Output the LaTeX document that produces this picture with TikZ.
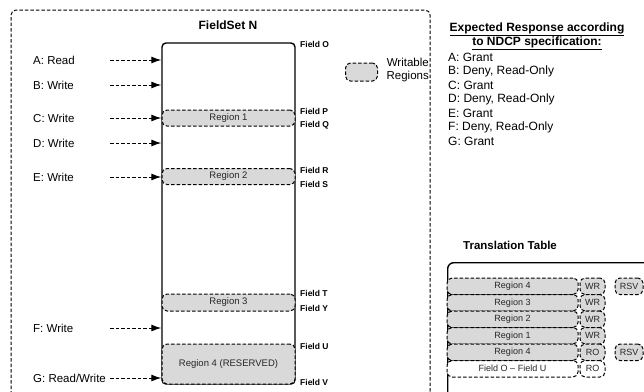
\documentclass[tikz,border=0pt]{standalone}
\usepackage{fontspec}
\setmainfont{Liberation Sans}
\usetikzlibrary{arrows.meta}
\definecolor{regfill}{RGB}{217,217,217}
\newcommand{\fsz}[2]{\fontsize{#1}{#2}\selectfont}

\begin{document}
\begin{tikzpicture}[x=1pt,y=-1pt,
  dsh/.style={dash pattern=on 3.5pt off 2pt},
  region/.style={draw,dsh,line width=1pt,rounded corners=5pt,fill=regfill,
    inner sep=0pt,font=\fsz{9.5}{11},text=black!85},
  cell/.style={region,font=\fsz{9}{10},minimum height=16.5pt},
  req/.style={dsh,line width=1pt,-{Latex[length=10pt,width=7pt]}},
  lbl/.style={anchor=west,inner sep=0pt,font=\fsz{11.5}{13}},
  fld/.style={anchor=west,inner sep=0pt,font=\bfseries\fsz{8.5}{10}}]
  \useasboundingbox (0,0) rectangle (644,391);
  \clip (0,0) rectangle (644,391);

  % outer frame, runs off the page
  \draw[dsh,line width=1pt,rounded corners=5pt] (11,400) -- (11,10) -- (430,10) -- (430,400);

  % the field set and its regions
  \node[font=\bfseries\fsz{12}{14}] (fsname) at (228,25) {FieldSet N};
  \node[draw,line width=1.4pt,rounded corners=4pt,inner sep=0pt,
    minimum width=133pt,minimum height=341pt] (fs) at (228.5,213.5) {};
  \node[region,minimum width=133pt,minimum height=16pt] (reg1) at (228.5,118) {Region 1};
  \node[region,minimum width=133pt,minimum height=16pt] (reg2) at (228.5,176.5) {Region 2};
  \node[region,minimum width=133pt,minimum height=17pt] (reg3) at (228.5,302.5) {Region 3};
  \node[region,minimum width=133pt,minimum height=40pt] (reg4) at (228.5,364) {Region 4 (RESERVED)};

  \foreach \f/\y in {O/44,P/111,Q/125,R/170,S/184,T/293,Y/308,U/346,V/382}
    \node[fld] (f\f) at (300,\y) {Field \f};

  % requests
  \foreach \t/\y [count=\i] in {A: Read/60,B: Write/85,C: Write/118,D: Write/143,
      E: Write/177,F: Write/328,{G: Read/Write}/378} {
    \node[lbl] (q\i) at (33,\y) {\t};
    \coordinate (s\i) at (110,\y);
    \draw[req] (s\i) -- (s\i -| fs.west);
  }

  % legend
  \node[region,minimum width=32pt,minimum height=18pt] (key) at (361.5,72) {};
  \node[anchor=east,align=right,inner sep=0pt,font=\fsz{11.5}{13}] (keytxt) at (429,70) {Writable\\Regions};

  % expected responses
  \node[align=center,font=\bfseries\fsz{12}{14}] (exphead) at (537,36)
    {\underline{Expected Response according}\\\underline{to NDCP specification:}};
  \foreach \t [count=\i] in {A: Grant,{B: Deny, Read-Only},C: Grant,{D: Deny, Read-Only},
      E: Grant,{F: Deny, Read-Only},G: Grant}
    \node[lbl,font=\fsz{12}{14}] (r\i) at (448,{43+14*\i}) {\t};

  % translation table
  \node[font=\bfseries\fsz{11.5}{13}] (tthead) at (510,245) {Translation Table};
  \node[draw,line width=1.4pt,rounded corners=6pt,inner sep=0pt,anchor=north west,
    minimum width=213pt,minimum height=140pt] (tt) at (447,262) {};
  \foreach \a/\b [count=\i] in {Region 4/WR,Region 3/WR,Region 2/WR,Region 1/WR,Region 4/RO} {
    \node[cell,minimum width=131pt] (n\i) at (512.5,{269.75+16.5*\i}) {\a};
    \node[cell,minimum width=25pt] (m\i) at (592.5,{269.75+16.5*\i}) {\b};
  }
  \node[cell,minimum width=28pt] (k1) at (629,286.25) {RSV};
  \node[cell,minimum width=28pt] (k5) at (629,352.25) {RSV};
  \node[cell,fill=white,minimum width=131pt] (n6) at (512.5,368.75) {Field O -- Field U};
  \node[cell,fill=white,minimum width=25pt] (m6) at (592.5,368.75) {RO};
  \foreach \y in {294.5,311,327.5,344,360.5}
    \draw[line width=0.5pt] (447,\y-2.5) -- (451,\y) -- (447,\y+2.5);
\end{tikzpicture}
\end{document}
